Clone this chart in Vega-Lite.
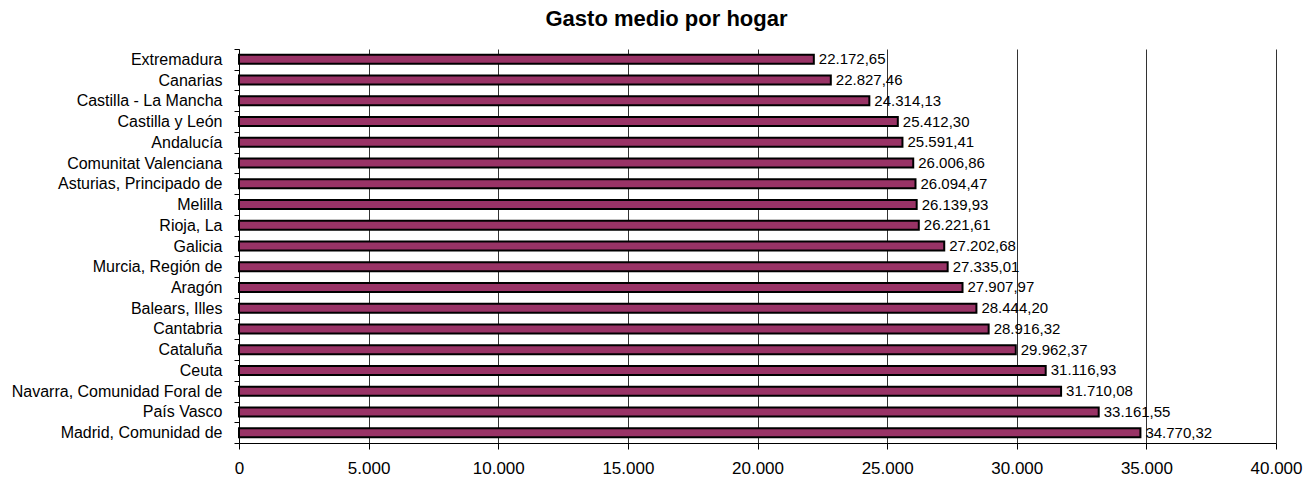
{
  "$schema": "https://vega.github.io/schema/vega-lite/v6.json",
  "width": 1037,
  "height": 394,
  "autosize": "none",
  "padding": {"left": 239, "top": 49, "right": 30, "bottom": 36},
  "background": "white",
  "title": {
    "text": "Gasto medio por hogar",
    "font": "Liberation Sans",
    "fontSize": 22,
    "fontWeight": "bold",
    "color": "black",
    "anchor": "middle",
    "offset": 10,
    "dx": -91
  },
  "data": {
    "values": [
      {"region": "Extremadura", "gasto": 22172.65},
      {"region": "Canarias", "gasto": 22827.46},
      {"region": "Castilla - La Mancha", "gasto": 24314.13},
      {"region": "Castilla y León", "gasto": 25412.30},
      {"region": "Andalucía", "gasto": 25591.41},
      {"region": "Comunitat Valenciana", "gasto": 26006.86},
      {"region": "Asturias, Principado de", "gasto": 26094.47},
      {"region": "Melilla", "gasto": 26139.93},
      {"region": "Rioja, La", "gasto": 26221.61},
      {"region": "Galicia", "gasto": 27202.68},
      {"region": "Murcia, Región de", "gasto": 27335.01},
      {"region": "Aragón", "gasto": 27907.97},
      {"region": "Balears, Illes", "gasto": 28444.20},
      {"region": "Cantabria", "gasto": 28916.32},
      {"region": "Cataluña", "gasto": 29962.37},
      {"region": "Ceuta", "gasto": 31116.93},
      {"region": "Navarra, Comunidad Foral de", "gasto": 31710.08},
      {"region": "País Vasco", "gasto": 33161.55},
      {"region": "Madrid, Comunidad de", "gasto": 34770.32}
    ]
  },
  "encoding": {
    "y": {
      "field": "region",
      "type": "nominal",
      "sort": {"field": "gasto", "order": "ascending"},
      "scale": {"paddingInner": 0, "paddingOuter": 0},
      "axis": {
        "title": null,
        "tickBand": "extent",
        "domainColor": "black",
        "tickColor": "black",
        "tickSize": 5,
        "labelFont": "Liberation Sans",
        "labelFontSize": 16,
        "labelColor": "black",
        "labelPadding": 12,
        "labelLimit": 0
      }
    },
    "x": {
      "field": "gasto",
      "type": "quantitative",
      "scale": {"domain": [0, 40000], "nice": false},
      "axis": {
        "title": null,
        "values": [0, 5000, 10000, 15000, 20000, 25000, 30000, 35000, 40000],
        "format": ",.0f",
        "grid": true,
        "gridColor": "#333",
        "gridWidth": 1,
        "domainColor": "black",
        "tickColor": "black",
        "tickSize": 6,
        "labelFont": "Liberation Sans",
        "labelFontSize": 17,
        "labelColor": "black",
        "labelPadding": 11,
        "labelFlush": false
      }
    }
  },
  "layer": [
    {
      "mark": {"type": "bar", "fill": "#993366", "stroke": "black", "strokeWidth": 2, "size": 9}
    },
    {
      "mark": {"type": "text", "align": "left", "baseline": "middle", "dx": 5, "font": "Liberation Sans", "fontSize": 15, "color": "black"},
      "encoding": {
        "text": {"field": "gasto", "type": "quantitative", "format": ",.2f"}
      }
    }
  ],
  "config": {
    "view": {"stroke": null},
    "locale": {
      "number": {"decimal": ",", "thousands": ".", "grouping": [3], "currency": ["", " €"]}
    }
  }
}
